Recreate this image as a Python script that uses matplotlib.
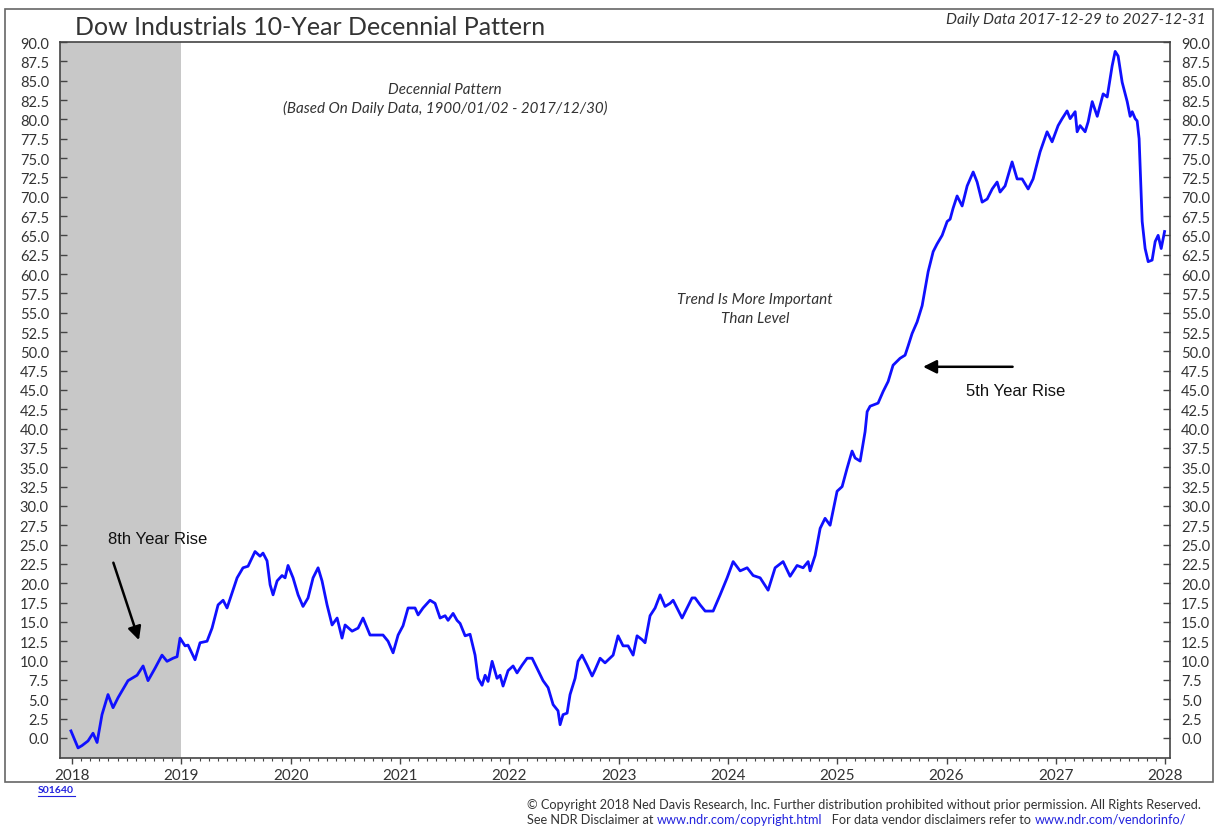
import matplotlib.pyplot as plt
from matplotlib.patches import Rectangle
from matplotlib.lines import Line2D
import numpy as np

# decennial pattern values (fractional year, index level)
years = [
    2017.99, 2018.055, 2018.091, 2018.146, 2018.192, 2018.229, 2018.274, 2018.329,
    2018.375, 2018.421, 2018.512, 2018.595, 2018.650, 2018.695, 2018.759, 2018.823,
    2018.869, 2018.924, 2018.961, 2018.988, 2019.034, 2019.061, 2019.125, 2019.171,
    2019.235, 2019.281, 2019.336, 2019.382, 2019.418, 2019.510, 2019.564, 2019.610,
    2019.674, 2019.720, 2019.747, 2019.784, 2019.812, 2019.839, 2019.876, 2019.921,
    2019.949, 2019.976, 2020.022, 2020.068, 2020.113, 2020.159, 2020.205, 2020.251,
    2020.287, 2020.333, 2020.379, 2020.425, 2020.470, 2020.498, 2020.562, 2020.617,
    2020.662, 2020.726, 2020.790, 2020.845, 2020.891, 2020.937, 2020.983, 2021.028,
    2021.074, 2021.138, 2021.166, 2021.211, 2021.275, 2021.321, 2021.367, 2021.413,
    2021.440, 2021.486, 2021.522, 2021.550, 2021.596, 2021.641, 2021.687, 2021.715,
    2021.751, 2021.779, 2021.806, 2021.843, 2021.888, 2021.916, 2021.943, 2021.989,
    2022.035, 2022.071, 2022.117, 2022.163, 2022.209, 2022.254, 2022.309, 2022.355,
    2022.401, 2022.446, 2022.465, 2022.492, 2022.529, 2022.556, 2022.602, 2022.629,
    2022.666, 2022.712, 2022.758, 2022.785, 2022.831, 2022.876, 2022.950, 2022.995,
    2023.041, 2023.087, 2023.133, 2023.169, 2023.215, 2023.242, 2023.288, 2023.334,
    2023.380, 2023.425, 2023.471, 2023.499, 2023.535, 2023.581, 2023.627, 2023.672,
    2023.700, 2023.746, 2023.792, 2023.865, 2023.929, 2023.993, 2024.048, 2024.112,
    2024.176, 2024.231, 2024.295, 2024.368, 2024.432, 2024.505, 2024.569, 2024.633,
    2024.688, 2024.734, 2024.752, 2024.798, 2024.844, 2024.889, 2024.935, 2024.999,
    2025.045, 2025.091, 2025.136, 2025.164, 2025.210, 2025.255, 2025.274, 2025.301,
    2025.374, 2025.420, 2025.466, 2025.511, 2025.575, 2025.621, 2025.649, 2025.685,
    2025.731, 2025.777, 2025.804, 2025.832, 2025.878, 2025.914, 2025.960, 2026.006,
    2026.033, 2026.060, 2026.097, 2026.143, 2026.189, 2026.244, 2026.280, 2026.326,
    2026.372, 2026.418, 2026.463, 2026.490, 2026.536, 2026.600, 2026.646, 2026.692,
    2026.747, 2026.792, 2026.856, 2026.920, 2026.966, 2027.021, 2027.058, 2027.103,
    2027.131, 2027.177, 2027.195, 2027.222, 2027.268, 2027.296, 2027.333, 2027.379,
    2027.433, 2027.470, 2027.515, 2027.543, 2027.570, 2027.607, 2027.653, 2027.680,
    2027.699, 2027.726, 2027.744, 2027.762, 2027.790, 2027.817, 2027.845, 2027.881,
    2027.909, 2027.936, 2027.964, 2027.995,
]
values = [
    0.9, -1.3, -1.0, -0.4, 0.6, -0.6, 3.0, 5.6,
    3.9, 5.2, 7.4, 8.1, 9.3, 7.4, 9.0, 10.7,
    9.9, 10.3, 10.5, 12.9, 11.9, 12.0, 10.1, 12.3,
    12.5, 14.2, 17.2, 17.8, 16.8, 20.7, 22.0, 22.2,
    24.1, 23.5, 23.9, 22.9, 19.8, 18.5, 20.3, 21.0,
    20.7, 22.3, 20.7, 18.5, 17.0, 18.1, 20.7, 22.0,
    20.3, 17.2, 14.6, 15.5, 12.9, 14.6, 13.8, 14.2,
    15.5, 13.3, 13.3, 13.3, 12.5, 11.0, 13.3, 14.5,
    16.8, 16.8, 15.9, 16.8, 17.8, 17.4, 15.5, 15.8,
    15.2, 16.1, 15.2, 14.8, 13.2, 13.4, 10.7, 7.7,
    6.8, 8.1, 7.3, 9.9, 7.7, 8.1, 6.7, 8.7,
    9.3, 8.4, 9.4, 10.3, 10.3, 9.0, 7.4, 6.5,
    4.3, 3.5, 1.7, 3.0, 3.2, 5.6, 7.7, 9.9,
    10.7, 9.4, 8.0, 8.8, 10.3, 9.7, 10.7, 13.2,
    11.9, 11.9, 10.7, 13.2, 12.7, 12.3, 15.8, 16.8,
    18.5, 17.0, 17.4, 17.8, 16.8, 15.5, 16.8, 18.1,
    18.1, 17.2, 16.4, 16.4, 18.5, 20.7, 22.8, 21.6,
    22.0, 21.0, 20.7, 19.1, 22.0, 22.8, 20.9, 22.3,
    22.0, 22.8, 21.6, 23.6, 27.1, 28.4, 27.5, 31.9,
    32.5, 34.9, 37.1, 36.2, 35.8, 39.6, 42.2, 42.9,
    43.3, 44.8, 46.1, 48.2, 49.1, 49.5, 50.7, 52.3,
    53.8, 55.9, 58.1, 60.3, 62.9, 63.9, 65.0, 66.8,
    67.1, 68.5, 70.1, 68.8, 71.4, 73.2, 71.9, 69.3,
    69.7, 71.0, 71.9, 70.6, 71.4, 74.5, 72.3, 72.3,
    71.0, 72.3, 75.8, 78.4, 77.1, 79.2, 80.1, 81.1,
    80.1, 81.0, 78.4, 79.2, 78.4, 79.7, 82.3, 80.4,
    83.3, 82.9, 86.9, 88.8, 88.2, 84.8, 82.3, 80.4,
    81.0, 80.1, 79.8, 77.5, 66.8, 63.3, 61.6, 61.8,
    64.2, 65.0, 63.3, 65.5,
]

year_ticks = list(range(2018, 2029))
level_ticks = np.arange(0, 90.1, 2.5)
shade_end = 2019.0

txt_col = "#333333"
plt.rcParams['font.family'] = ['Lato', 'DejaVu Sans']

fig = plt.figure(figsize=(12.15, 8.29), dpi=100)
ax = fig.add_axes([0.0494, 0.0845, 0.9136, 0.8635])

# outer frame
fig.patches.append(Rectangle((0.004, 0.0555), 0.994, 0.9325, transform=fig.transFigure,
                             fill=False, edgecolor="#666666", linewidth=1.2))

x0, x1 = 2017.89, 2028.045
ax.axvspan(x0, shade_end, color="#c8c8c8", lw=0, zorder=0)
ax.plot(years, values, color="#1010ff", lw=2.0, zorder=3)

ax.set_xlim(x0, x1)
ax.set_ylim(-2.6, 90)
ax.set_xticks(year_ticks)
ax.set_xticklabels([str(y) for y in year_ticks])
ax.set_xticks(np.arange(2018, 2028.01, 1 / 12), minor=True)
ax.set_yticks(level_ticks)
ax.set_yticklabels([f"{v:.1f}" for v in level_ticks])

ax.tick_params(axis="y", which="major", direction="in", length=5, width=1, color="#444444",
               left=True, right=True, labelleft=True, labelright=True,
               labelsize=10.5, labelcolor=txt_col, pad=8)
ax.tick_params(axis="x", which="major", direction="out", length=4, width=1, color="#444444",
               labelsize=11, labelcolor=txt_col, pad=3)
ax.tick_params(axis="x", which="minor", direction="out", length=2, width=0.8, color="#444444")
for s in ax.spines.values():
    s.set_color("#444444")
    s.set_linewidth(1.2)

# titles
fig.text(0.062, 0.967, "Dow Industrials 10-Year Decennial Pattern", fontsize=18,
         color=txt_col, ha="left", va="center")
fig.text(0.992, 0.976, "Daily Data 2017-12-29 to 2027-12-31", fontsize=11.2,
         style="italic", color=txt_col, ha="right", va="center")

ax.text(2021.41, 83.9, "Decennial Pattern", fontsize=10.9, style="italic",
        color=txt_col, ha="center", va="center")
ax.text(2021.41, 81.6, "(Based On Daily Data, 1900/01/02 - 2017/12/30)", fontsize=10.9,
        style="italic", color=txt_col, ha="center", va="center")
ax.text(2024.25, 55.5, "Trend Is More Important\nThan Level", fontsize=11, style="italic",
        color=txt_col, ha="center", va="center", linespacing=1.45)

# annotations
ax.text(2018.78, 25.8, "8th Year Rise", fontsize=12, family="Liberation Sans",
        color="#111111", ha="center", va="center")
ax.annotate("", xy=(2018.62, 12.3), xytext=(2018.37, 23.0),
            arrowprops=dict(arrowstyle="-|>", color="black", lw=1.8, mutation_scale=20))
ax.text(2026.63, 44.9, "5th Year Rise", fontsize=12, family="Liberation Sans",
        color="#111111", ha="center", va="center")
ax.annotate("", xy=(2025.76, 48.0), xytext=(2026.63, 48.0),
            arrowprops=dict(arrowstyle="-|>", color="black", lw=1.8, mutation_scale=20))

# footer
fig.text(0.031, 0.047, "S01640", fontsize=7.5, weight="bold", color="#2222dd",
         ha="left", va="center")
fig.add_artist(Line2D([0.031, 0.062], [0.039, 0.039], transform=fig.transFigure,
                      color="#2222dd", lw=0.8))

fig.text(0.434, 0.029, "\u00a9 Copyright 2018 Ned Davis Research, Inc. Further distribution "
         "prohibited without prior permission. All Rights Reserved.",
         fontsize=9.2, color=txt_col, ha="left", va="center")

parts = [("See NDR Disclaimer at ", txt_col), ("www.ndr.com/copyright.html", "#2222dd"),
         ("   For data vendor disclaimers refer to ", txt_col),
         ("www.ndr.com/vendorinfo/", "#2222dd")]
renderer = fig.canvas.get_renderer()
xpos = 0.434
for s, c in parts:
    t = fig.text(xpos, 0.011, s, fontsize=9.2, color=c, ha="left", va="center")
    bb = t.get_window_extent(renderer=renderer)
    xpos += bb.width / fig.bbox.width

fig.savefig("out.png", dpi=100)
plt.close()
